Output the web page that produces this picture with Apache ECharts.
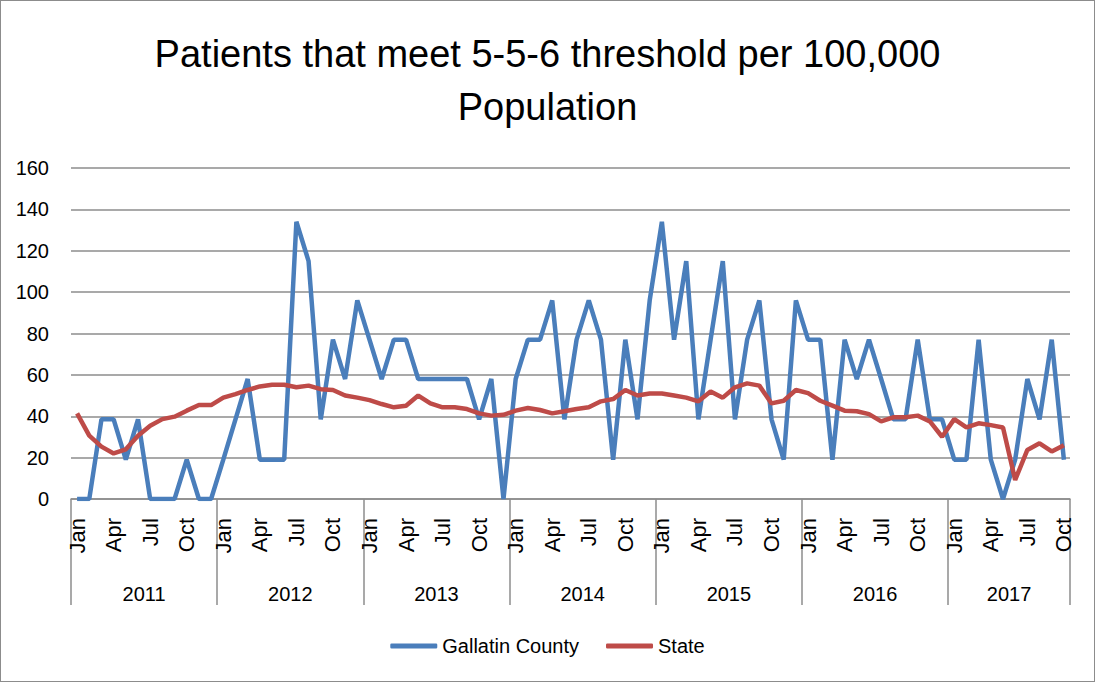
<!DOCTYPE html>
<html>
<head>
<meta charset="utf-8">
<script src="https://cdn.jsdelivr.net/npm/echarts@6/dist/echarts.min.js"></script>
<style>
  html, body { margin: 0; padding: 0; background: #fff; }
  #chart { width: 1093px; height: 680px; border: 1px solid #8c8c8c; }
</style>
</head>
<body>
<div id="chart"></div>
<script>
// month categories Jan 2011 .. Oct 2017
const monthNames = ["Jan", "Feb", "Mar", "Apr", "May", "Jun", "Jul", "Aug", "Sep", "Oct", "Nov", "Dec"];
const years = ["2011", "2012", "2013", "2014", "2015", "2016", "2017"];
const months = [];
years.forEach(function (y, yi) {
    const n = yi === years.length - 1 ? 10 : 12;
    for (let m = 0; m < n; m++) months.push(monthNames[m]);
});

const gallatin = [
    0, 0, 38.5, 38.5, 19, 38.5, 0, 0, 0, 19, 0, 0,
    19, 38.5, 58, 19, 19, 19, 134, 115, 38.5, 77, 58, 96,
    77, 58, 77, 77, 58, 58, 58, 58, 58, 38.5, 58, 0,
    58, 77, 77, 96, 38.5, 77, 96, 77, 19, 77, 38.5, 96,
    134, 77, 115, 38.5, 77, 115, 38.5, 77, 96, 38.5, 19, 96,
    77, 77, 19, 77, 58, 77, 58, 38.5, 38.5, 77, 38.5, 38.5,
    19, 19, 77, 19, 0, 19, 58, 38.5, 77, 19
];
const state = [
    41.4, 30.6, 25.3, 22, 24, 30.6, 35.4, 38.6, 39.8, 42.7, 45.4, 45.4,
    49, 50.7, 52.7, 54.4, 55.2, 55.2, 54, 54.8, 53.1, 52.7, 50, 49,
    47.8, 45.9, 44.3, 45.1, 50, 46.2, 44.3, 44.3, 43.5, 41.4, 40.3, 40.7,
    42.7, 44, 43, 41.4, 42.4, 43.5, 44.3, 47.2, 48.3, 52.7, 50, 51,
    51, 50, 49, 47.2, 52, 49, 54, 55.9, 54.8, 46.2, 47.5, 52.7,
    51.2, 47.5, 45.1, 42.7, 42.4, 41, 37.5, 39.5, 39.5, 40.3, 37.5, 30.1,
    38.6, 34.6, 36.6, 35.7, 34.6, 9.2, 23.7, 26.9, 23, 26
];
// year label positions (month offset of each year's centre)
const yearCentres = [6, 18, 30, 42, 54, 66, 77];

const font = "'Liberation Sans', sans-serif";
const gridColor = "#8c8c8c";

const chart = echarts.init(document.getElementById("chart"), null, { renderer: "svg" });
chart.setOption({
    animation: false,
    textStyle: { fontFamily: font, color: "#000" },
    title: {
        text: "Patients that meet 5-5-6 threshold per 100,000\nPopulation",
        left: "center",
        top: 21,
        textStyle: { fontFamily: font, fontSize: 38, fontWeight: "normal", lineHeight: 53, color: "#000" }
    },
    grid: { left: 70, right: 24, top: 167, bottom: 182 },
    legend: {
        bottom: 20,
        left: "center",
        icon: "roundRect",
        itemWidth: 47,
        itemHeight: 5,
        itemGap: 27,
        textStyle: { fontFamily: font, fontSize: 20, color: "#000" },
        data: ["Gallatin County", "State"]
    },
    xAxis: [{
        type: "category",
        data: months,
        boundaryGap: true,
        axisLine: { lineStyle: { color: gridColor, width: 1.5 } },
        axisTick: {
            show: true,
            interval: function (i) { return i % 12 === 0; },
            length: 106,
            lineStyle: { color: gridColor, width: 1.5 }
        },
        axisLabel: { interval: 2, rotate: 90, margin: 19, fontSize: 22, color: "#000", fontFamily: font }
    }, {
        type: "value",
        position: "bottom",
        min: 0,
        max: months.length,
        interval: 1,
        axisLine: { show: false },
        axisTick: { show: false },
        splitLine: { show: false },
        axisLabel: {
            margin: 85,
            fontSize: 20,
            color: "#000",
            fontFamily: font,
            showMinLabel: true,
            showMaxLabel: true,
            formatter: function (v) {
                const k = yearCentres.indexOf(v);
                return k >= 0 ? years[k] : "";
            }
        }
    }],
    yAxis: {
        type: "value",
        min: 0,
        max: 160,
        interval: 20,
        axisLine: { show: false },
        axisTick: { show: false },
        axisLabel: { margin: 22, fontSize: 20, color: "#000", fontFamily: font },
        splitLine: { lineStyle: { color: gridColor, width: 1.5 } }
    },
    series: [{
        name: "Gallatin County",
        type: "line",
        xAxisIndex: 0,
        data: gallatin,
        symbol: "none",
        color: "#4a7ebb",
        lineStyle: { width: 4.5, color: "#4a7ebb" }
    }, {
        name: "State",
        type: "line",
        xAxisIndex: 0,
        data: state,
        symbol: "none",
        color: "#be4b48",
        lineStyle: { width: 4.5, color: "#be4b48" }
    }]
});
</script>
</body>
</html>
